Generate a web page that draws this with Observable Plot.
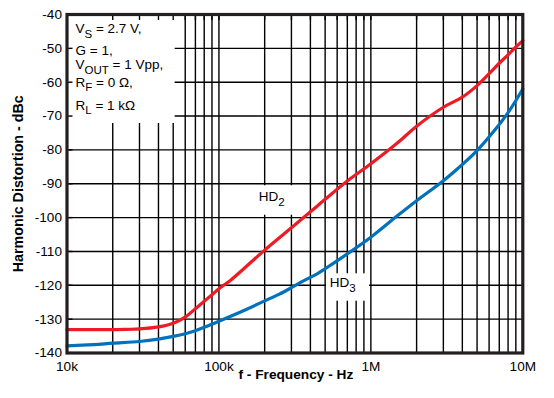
<!DOCTYPE html>
<html><head><meta charset="utf-8">
<script src="https://cdn.jsdelivr.net/npm/d3@7"></script>
<script src="https://cdn.jsdelivr.net/npm/@observablehq/plot@0.6"></script>
<style>body{margin:0;background:#fff}</style>
</head><body><div id="chart"></div>
<script>
// HD2 (red)
const hd2Freq = [1e4,1.5e4,2e4,2.5e4,3e4,4e4,5e4,6e4,7e4,8e4,9e4,1e5,1.2e5,1.5e5,2e5,3e5,4e5,5e5,7e5,1e6,1.5e6,2e6,3e6,4e6,5e6,6e6,7e6,8e6,9e6,1e7];
const hd2Db   = [-133.1,-133.1,-133.1,-133.0,-132.9,-132.3,-131.2,-129.4,-126.9,-124.7,-122.8,-121.0,-118.4,-114.6,-109.6,-103.0,-98.3,-94.6,-89.2,-84.1,-77.9,-73.0,-67.4,-64.4,-61.0,-57.5,-54.4,-51.9,-49.6,-47.7];
// HD3 (blue)
const hd3Freq = [1e4,1.5e4,2e4,3e4,4e4,5e4,6e4,7e4,8e4,1e5,1.5e5,2e5,2.5e5,3e5,3.6e5,4.4e5,5e5,7e5,1e6,1.5e6,2e6,3e6,4e6,5e6,6.5e6,8e6,1e7];
const hd3Db   = [-137.9,-137.5,-137.1,-136.6,-135.9,-135.1,-134.3,-133.4,-132.4,-130.6,-127.2,-124.6,-122.6,-120.7,-118.7,-116.7,-115.1,-110.7,-105.8,-99.4,-95.0,-89.1,-84.3,-80.2,-74.3,-69.0,-62.0];

const xTickValues = [1e4, 1e5, 1e6, 1e7];
const xTickLabels = ["10k", "100k", "1M", "10M"];
const yTickValues = [-140,-130,-120,-110,-100,-90,-80,-70,-60,-50,-40];
const decades = [1e4, 1e5, 1e6];
const xGrid = decades.flatMap(d => [1,2,3,4,5,6,7,8,9].map(k => k * d)).concat([1e7]);

const legendLines = ["V{S} = 2.7 V,", "G = 1,", "V{OUT} = 1 Vpp,", "R{F} = 0 Ω,", "R{L} = 1 kΩ"];
const seriesLabels = ["HD{2}", "HD{3}"];

// layout (annotation placement)
const legendDy = [18.7, 40.5, 54.5, 72, 95];
const labelPos = [{x: 1.83e5, y: -95.2}, {x: 5.37e5, y: -120.6}];
const boxes = [
  {x1: 1e4, x2: 5.15e4, y1: -72.2, y2: -40},
  {x1: 1.5e5, x2: 3.44e5, y1: -99.3, y2: -90.6},
  {x1: 5.11e5, x2: 9.8e5, y1: -124.7, y2: -116.6}
];

const hd2 = hd2Freq.map((f, i) => ({f, db: hd2Db[i]}));
const hd3 = hd3Freq.map((f, i) => ({f, db: hd3Db[i]}));

const W = 554, H = 398, mL = 66.5, mR = 31.7, mT = 14, mB = 45.5;
const pw = W - mL - mR, ph = H - mT - mB;

const svg = Plot.plot({
  width: W, height: H,
  marginLeft: mL, marginRight: mR, marginTop: mT, marginBottom: mB,
  style: {fontFamily: "'Liberation Sans', Arial, sans-serif", fontSize: "13.6px", background: "#fff", color: "#000"},
  x: {type: "log", domain: [1e4, 1e7]},
  y: {domain: [-140, -40]},
  marks: [
    Plot.ruleX(xGrid, {x: d => d, stroke: "#000", strokeWidth: 1.4}),
    Plot.ruleY(yTickValues, {y: d => d, stroke: "#000", strokeWidth: 1.4}),
    Plot.rect(boxes, {x1: "x1", x2: "x2", y1: "y1", y2: "y2", fill: "#fff"}),
    Plot.ruleX(xGrid, {x: d => d, insetBottom: ph - 6, stroke: "#000", strokeWidth: 1.4}),
    Plot.ruleY(yTickValues, {y: d => d, insetRight: pw - 6, stroke: "#000", strokeWidth: 1.4}),
    Plot.line(hd2, {x: "f", y: "db", stroke: "#ed1c24", strokeWidth: 3.2, curve: "catmull-rom"}),
    Plot.line(hd3, {x: "f", y: "db", stroke: "#0072bc", strokeWidth: 3.2, curve: "catmull-rom"}),
    Plot.frame({stroke: "#231f20", strokeWidth: 3.2}),
    ...legendLines.map((t, i) => Plot.text([t], {frameAnchor: "top-left", dx: 8.5, dy: legendDy[i], textAnchor: "start", lineAnchor: "bottom", fontSize: 13.5, fill: "#000"})),
    Plot.text(seriesLabels, {x: (d, i) => labelPos[i].x, y: (d, i) => labelPos[i].y, text: d => d, textAnchor: "start", lineAnchor: "bottom", fontSize: 13.5, fill: "#000"}),
    Plot.axisX({ticks: xTickValues, tickFormat: (d) => xTickLabels[xTickValues.indexOf(d)], tickSize: 0, tickPadding: 8, label: null}),
    Plot.axisY({ticks: yTickValues, tickFormat: d => String(d), tickSize: 0, tickPadding: 5, label: null}),
    Plot.text(["f - Frequency - Hz"], {frameAnchor: "bottom", dy: 25.5, dx: 1, textAnchor: "middle", fontWeight: "bold", fontSize: 13.7, fill: "#000"}),
    Plot.text(["Harmonic Distortion - dBc"], {frameAnchor: "left", dx: -48.5, rotate: -90, textAnchor: "middle", fontWeight: "bold", fontSize: 14.3, fill: "#000"})
  ]
});

// subscripts
svg.querySelectorAll("text").forEach(t => {
  const s = t.textContent;
  if (!s.includes("{")) return;
  t.textContent = "";
  const parts = s.split(/(\{[^}]*\})/).filter(p => p);
  let sub = false;
  parts.forEach(p => {
    const ts = document.createElementNS("http://www.w3.org/2000/svg", "tspan");
    if (p.startsWith("{")) {
      ts.textContent = p.slice(1, -1);
      ts.setAttribute("dy", "4.5");
      ts.setAttribute("font-size", "11.5");
      sub = true;
    } else {
      ts.textContent = p;
      if (sub) { ts.setAttribute("dy", "-4.5"); sub = false; }
    }
    t.appendChild(ts);
  });
});

document.getElementById("chart").appendChild(svg);
</script>
</body></html>
